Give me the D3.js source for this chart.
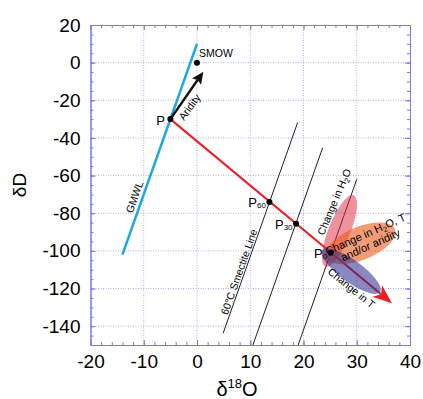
<!DOCTYPE html>
<html>
<head>
<meta charset="utf-8">
<script src="https://cdn.jsdelivr.net/npm/d3@7"></script>
<style>
  body { margin: 0; background: #fff; }
  svg { font-family: "Liberation Sans", Arial, Helvetica, sans-serif; }
  .axis path, .axis line { stroke: #7878ec; }
  .axis text { fill: #000; }
</style>
</head>
<body>
<script>
/*
 * Isotope plot: dD vs d18O, meteoric water line, smectite lines
 * and the evolution path P -> P0.
 */

const W = 423;
const H = 399;

// axis ticks
const X_TICKS = [-20, -10, 0, 10, 20, 30, 40];
const Y_TICKS = [20, 0, -20, -40, -60, -80, -100, -120, -140];
const X_MINOR = d3.range(-20, 41, 2);
const Y_MINOR = d3.range(-150, 21, 5);

// lines (d18O, dD)
const GMWL = [[-14, -102], [0, 10]];
const SMECTITE_LINES = [
  [[4.9, -143.8], [18.9, -31.8]],
  [[10.5, -150], [23.6, -45.2]],
  [[19.0, -150], [30.0, -62]]
];
const EVOLUTION_PATH = [[-5, -30], [36.6, -127.8]];
const ARIDITY_ARROW = [[-5, -30], [1.2, -4.8]];

// labelled points
const POINT_NAMES = ['P', 'SMOW', 'P', 'P', 'P'];
const POINT_SUBS = ['', '', '60', '30', '0'];
const POINT_X = [-5, 0, 13.6, 18.6, 25.1];
const POINT_Y = [-30, 0, -74, -85.6, -101];

// ellipses given by the two ends of the long axis
const ELLIPSE_NAMES = ['h2o', 'h2oT', 'temp'];
const ELLIPSE_ENDS = [
  [[24.1, -108.4], [29.4, -70.3]],
  [[24.2, -103.5], [37.2, -88.5]],
  [[23.5, -99.6], [34.4, -121.9]]
];

const x = d3.scaleLinear().domain([-20, 40]).range([90.5, 410]);
const y = d3.scaleLinear().domain([-150, 20]).range([345, 25]);

const svg = d3.select('body')
  .append('svg')
    .attr('width', W)
    .attr('height', H);

/*
 * Grid and axes.
 */

const grid = svg.append('g');
grid.selectAll('.gx')
  .data(X_TICKS.slice(1, -1))
  .join('line')
    .attr('x1', d => x(d)).attr('x2', d => x(d))
    .attr('y1', y(20)).attr('y2', y(-150));
grid.selectAll('.gy')
  .data(Y_TICKS.slice(1))
  .join('line')
    .attr('y1', d => y(d)).attr('y2', d => y(d))
    .attr('x1', x(-20)).attr('x2', x(40));
grid.selectAll('line')
    .attr('stroke', '#b0b0f2')
    .attr('stroke-width', 1)
    .attr('stroke-dasharray', '1,1.5');

const addAxis = (axis, tx, ty, showLabels) => {
  const g = svg.append('g')
      .attr('class', 'axis')
      .attr('transform', `translate(${tx},${ty})`)
      .call(axis);
  if (!showLabels) g.selectAll('text').remove();
  return g;
};

const plainNum = d => String(d);

// major ticks
addAxis(d3.axisBottom(x).tickValues(X_TICKS).tickSize(-5).tickSizeOuter(0)
  .tickPadding(10).tickFormat(plainNum), 0, y(-150), true);
addAxis(d3.axisTop(x).tickValues(X_TICKS).tickSize(-5).tickSizeOuter(0), 0, y(20), false);
addAxis(d3.axisLeft(y).tickValues(Y_TICKS).tickSize(-5).tickSizeOuter(0)
  .tickPadding(10).tickFormat(plainNum), x(-20), 0, true);
addAxis(d3.axisRight(y).tickValues(Y_TICKS).tickSize(-5).tickSizeOuter(0), x(40), 0, false);

// minor ticks
addAxis(d3.axisBottom(x).tickValues(X_MINOR).tickSize(-3).tickSizeOuter(0), 0, y(-150), false);
addAxis(d3.axisTop(x).tickValues(X_MINOR).tickSize(-3).tickSizeOuter(0), 0, y(20), false);
addAxis(d3.axisLeft(y).tickValues(Y_MINOR).tickSize(-3).tickSizeOuter(0), x(-20), 0, false);
addAxis(d3.axisRight(y).tickValues(Y_MINOR).tickSize(-3).tickSizeOuter(0), x(40), 0, false);

svg.selectAll('.axis text')
    .attr('font-size', 19)
    .attr('font-family', '"Liberation Sans", Arial, sans-serif');

// axis titles
svg.append('text')
    .attr('x', 237)
    .attr('y', 396)
    .attr('text-anchor', 'middle')
    .attr('font-size', 20)
    .call(t => {
      t.append('tspan').text('\u03B4');
      t.append('tspan').attr('font-size', 13).attr('dy', -8).text('18');
      t.append('tspan').attr('dy', 8).text('O');
    });

svg.append('text')
    .attr('transform', `translate(26, ${(y(20) + y(-150)) / 2}) rotate(-90)`)
    .attr('text-anchor', 'middle')
    .attr('font-size', 19)
    .text('\u03B4D');

/*
 * Lines.
 */

const line = d3.line().x(d => x(d[0])).y(d => y(d[1]));

svg.append('path')
    .attr('d', line(GMWL))
    .attr('fill', 'none')
    .attr('stroke', '#1ba6e6')
    .attr('stroke-width', 2.5);

svg.selectAll('.smectite')
  .data(SMECTITE_LINES)
  .join('path')
    .attr('class', 'smectite')
    .attr('d', d => line(d))
    .attr('fill', 'none')
    .attr('stroke', '#222')
    .attr('stroke-width', 1);

// arrow helper: line from a to b with a filled head
const arrow = (pts, color, width, headLen, headW, notch) => {
  const [x0, y0] = [x(pts[0][0]), y(pts[0][1])];
  const [x1, y1] = [x(pts[1][0]), y(pts[1][1])];
  const ang = Math.atan2(y1 - y0, x1 - x0);
  const ux = Math.cos(ang), uy = Math.sin(ang);
  const bx = x1 - ux * headLen, by = y1 - uy * headLen;
  svg.append('line')
      .attr('x1', x0).attr('y1', y0)
      .attr('x2', bx + ux * notch).attr('y2', by + uy * notch)
      .attr('stroke', color)
      .attr('stroke-width', width);
  const head = [
    [x1, y1],
    [bx - uy * headW / 2, by + ux * headW / 2],
    [bx + ux * notch, by + uy * notch],
    [bx + uy * headW / 2, by - ux * headW / 2]
  ];
  svg.append('path')
      .attr('d', 'M' + head.map(p => p.join(',')).join('L') + 'Z')
      .attr('fill', color);
};

arrow(EVOLUTION_PATH, '#ee1c23', 2, 19, 15, 5);

/*
 * Ellipses.
 */

const ELLIPSE_FILL = ['rgba(222,40,60,0.5)', 'rgba(235,90,30,0.6)', 'rgba(40,40,140,0.55)'];
const ELLIPSE_RY = [11, 16.5, 11];

svg.selectAll('.ellipse')
  .data(ELLIPSE_ENDS)
  .join('ellipse')
    .attr('class', 'ellipse')
    .each(function (d, i) {
      const ax = x(d[0][0]), ay = y(d[0][1]);
      const bx = x(d[1][0]), by = y(d[1][1]);
      const cx = (ax + bx) / 2, cy = (ay + by) / 2;
      const rx = Math.hypot(bx - ax, by - ay) / 2;
      const ang = Math.atan2(by - ay, bx - ax) * 180 / Math.PI;
      d3.select(this)
          .attr('rx', rx)
          .attr('ry', ELLIPSE_RY[i])
          .attr('transform', `translate(${cx},${cy}) rotate(${ang})`)
          .attr('fill', ELLIPSE_FILL[i]);
    });

arrow(ARIDITY_ARROW, '#111', 2.5, 12, 11, 2);

/*
 * Points and point labels.
 */

const points = POINT_NAMES.map((n, i) => ({ name: n, sub: POINT_SUBS[i], x: POINT_X[i], y: POINT_Y[i] }));

svg.selectAll('.pt')
  .data(points)
  .join('circle')
    .attr('class', 'pt')
    .attr('cx', d => x(d.x))
    .attr('cy', d => y(d.y))
    .attr('r', 3)
    .attr('fill', '#000');

points.forEach(d => {
  const t = svg.append('text')
      .attr('font-size', 13);
  if (d.name === 'SMOW') {
    t.attr('x', x(d.x) + 2).attr('y', y(d.y) - 6)
      .attr('font-size', 10.5)
      .text(d.name);
  } else if (d.sub === '') {
    t.attr('x', x(d.x) - 5.5).attr('y', y(d.y) + 6)
      .attr('text-anchor', 'end')
      .text(d.name);
  } else {
    t.attr('x', x(d.x) - 3.5).attr('y', y(d.y) + 5.5)
      .attr('text-anchor', 'end');
    t.append('tspan').text(d.name);
    t.append('tspan').attr('font-size', 8).attr('dy', 1).text(d.sub);
  }
});

/*
 * Annotations.
 */

const annotate = (dx, dy, rot, build) => {
  const t = svg.append('text')
      .attr('transform', `translate(${x(dx)},${y(dy)}) rotate(${rot})`)
      .attr('text-anchor', 'middle')
      .attr('font-size', 10.5)
      .attr('dy', '0.35em');
  build(t);
};

const h2o = t => {
  t.append('tspan').text('Change in H');
  t.append('tspan').attr('font-size', 7.5).attr('dy', 2.5).text('2');
  t.append('tspan').attr('dy', -2.5).text('O');
};

annotate(-1.4, -23.6, -54, t => t.text('Aridity'));
annotate(-11.75, -71.4, -70.5, t => t.text('GMWL'));
annotate(7.9, -111.2, -70.5, t => t.text('60\u00B0C Smectite Line'));
annotate(25.75, -74, -67, h2o);
annotate(29.0, -119.7, 39, t => t.text('Change in T'));

// two-line label for the orange ellipse
const g2 = svg.append('g')
    .attr('transform', `translate(${x(32.1)},${y(-93.9)}) rotate(-24)`);
g2.append('text')
    .attr('text-anchor', 'middle')
    .attr('font-size', 11)
    .attr('y', -2)
    .call(t => {
      h2o(t);
      t.append('tspan').text(', T');
    });
g2.append('text')
    .attr('text-anchor', 'middle')
    .attr('font-size', 11)
    .attr('y', 10)
    .text('and/or aridity');
</script>
</body>
</html>
